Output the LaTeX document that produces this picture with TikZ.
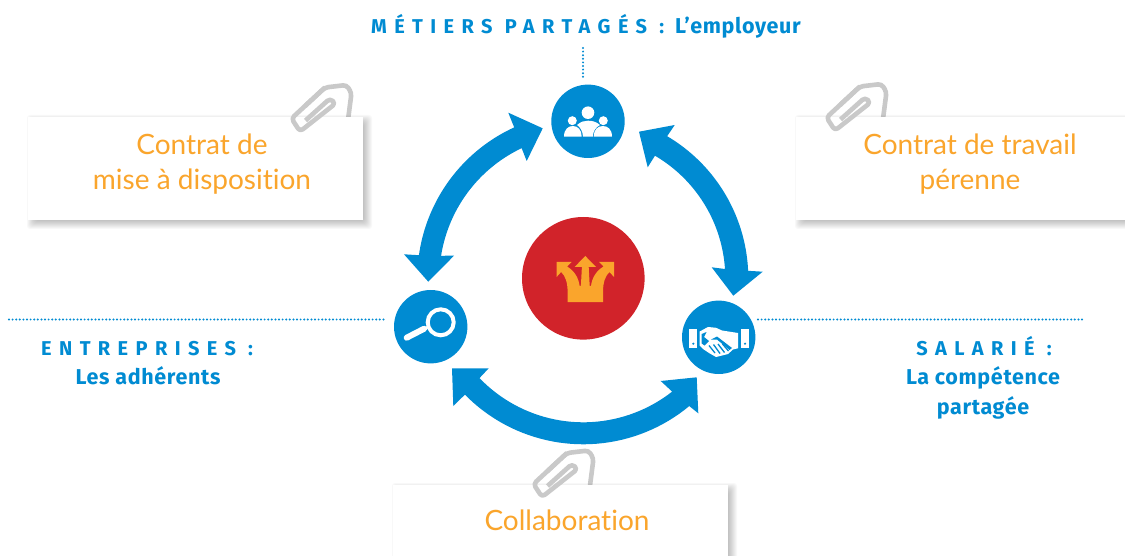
\documentclass[tikz,border=0pt]{standalone}
\usepackage{fontspec}
\setmainfont{Fira Sans}
\newfontfamily\lblfont{Fira Sans Bold}[LetterSpace=3]
\newfontfamily\spacedfont{Fira Sans Bold}[LetterSpace=37]
\newfontfamily\orfont{Lato}[Ligatures=NoCommon]
\definecolor{bluemain}{HTML}{008BD2}
\definecolor{redmain}{HTML}{D1232A}
\definecolor{orangemain}{HTML}{FAA52C}
\definecolor{cliptone}{HTML}{C9C9C9}
\tikzset{
  disc/.style={circle,fill=bluemain,minimum size=73.4pt,inner sep=0pt},
  reddisc/.style={circle,fill=redmain,minimum size=122.6pt,inner sep=0pt},
  paper/.style={rectangle,fill=white,inner sep=0pt},
  orangetext/.style={text=orangemain,font=\orfont\fontsize{28}{35}\selectfont,align=center,inner sep=0pt},
  bluetext/.style={text=bluemain,font=\lblfont\fontsize{21.5}{30}\selectfont,align=center,inner sep=0pt},
  spaced/.style={text=bluemain,font=\spacedfont\fontsize{20}{30}\selectfont,inner sep=0pt},
  dots/.style={draw=bluemain,line width=2.2pt,line cap=round,dash pattern=on 0pt off 3.6pt},
  fatarrow/.style={fill=bluemain},
  wire/.style={draw=cliptone,line width=4.6pt,rounded corners=3.5pt,line cap=butt,line join=round},
  icon/.style={fill=white},
}
% soft shadow of a rectangle
\newcommand{\softshadow}[4]{%
  \foreach \k in {0,1,...,11}{
    \fill[black,opacity=0.026,rounded corners=3pt]
      ({#1+10-\k},{#2+9-\k}) rectangle ({#3-2+\k},{#4-2+\k});
  }}
\newcommand{\clipback}[2]{%
  \begin{scope}[shift={(#1,#2)}]
    \draw[wire] (348,120) -- (351.5,93) -- (346.5,85) -- (325,87.5) -- (305,106);
  \end{scope}}
\newcommand{\clipfront}[2]{%
  \begin{scope}[shift={(#1,#2)}]
    \draw[wire] (325,87.5) -- (291.5,118.5) -- (300,131.5) -- (335.5,103.5) -- (330,98.5) -- (305.5,120.5);
  \end{scope}}
\begin{document}
\begin{tikzpicture}[x=1pt,y=-1pt]
\useasboundingbox (0,0) rectangle (1125,556);
\fill[white] (0,0) rectangle (1125,556);

% dotted leaders
\coordinate (topa) at (583,48);
\coordinate (topb) at (583,80);
\coordinate (lefta) at (9,319.5);
\coordinate (leftb) at (384,319.5);
\coordinate (righta) at (758,319.5);
\coordinate (rightb) at (1083,319.5);
\draw[dots] (topa) -- (topb);
\draw[dots] (lefta) -- (leftb);
\draw[dots] (righta) -- (rightb);

% shadows, clips, note boxes
\clipback{0}{0}
\clipback{535}{-1}
\clipback{242}{365.5}
\softshadow{28}{117}{363}{220}
\softshadow{796}{117}{1135}{220}
\softshadow{393}{485}{728}{570}
\node[paper,minimum width=335pt,minimum height=103pt] (boxL) at (195.5,168.5) {};
\node[paper,minimum width=339pt,minimum height=103pt] (boxR) at (965.5,168.5) {};
\node[paper,minimum width=335pt,minimum height=85pt] (boxB) at (560.5,527.5) {};
\clipfront{0}{0}
\clipfront{535}{-1}
\clipfront{242}{365.5}
\node[orangetext] (tL) at (202,164.5) {Contrat de\\mise à disposition};
\node[orangetext] (tR) at (970,164.5) {Contrat de travail\\pérenne};
\node[orangetext] (tB) at (567,520) {Collaboration};

% labels
\node[spaced,anchor=base west] (mp) at (371,34) {MÉTIERS PARTAGÉS :};
\node[bluetext,anchor=base east] (emp) at (801,34) {L’employeur};
\node[spaced,anchor=base west] (ent) at (41,355) {ENTREPRISES :};
\node[bluetext,anchor=base] (adh) at (148,384) {Les adhérents};
\node[spaced,anchor=base] (sal) at (984,355) {SALARIÉ :};
\node[bluetext,anchor=base] (comp) at (983,384) {La compétence};
\node[bluetext,anchor=base] (part) at (983,414) {partagée};

% circles
\node[reddisc] (core) at (583.3,278.3) {};
\node[disc] (people) at (588,121.3) {};
\node[disc] (search) at (430.7,326.7) {};
\node[disc] (shake) at (718.7,337.3) {};

% ring arrows
\fill[fatarrow] (542.7,128.3) -- (526.7,161) -- (521.7,148.3)
  -- plot[domain=244.8:189,samples=40] ({583.3+144*cos(\x)},{278.3+144*sin(\x)})
  -- (454,255.7) -- (428.3,281.7) -- (404,254.3)
  -- plot[domain=188:245.4,samples=40] ({583.3+166*cos(\x)},{278.3+166*sin(\x)})
  -- (508.3,112.7) -- cycle;
\fill[fatarrow] (639,131.7) -- (674.7,125) -- (667.3,136)
  -- plot[domain=-59.4:-2.6,samples=40] ({583.3+165*cos(\x)},{278.3+165*sin(\x)})
  -- (762.7,271.7) -- (733.3,295.7) -- (711.7,267.3)
  -- plot[domain=-3.75:-59.7,samples=40] ({583.3+142*cos(\x)},{278.3+142*sin(\x)})
  -- (647.7,167.3) -- cycle;
\fill[fatarrow] (452,368.3) -- (488.7,368.3) -- (479.3,378.3)
  -- plot[domain=136.1:51.9,samples=40] ({583.3+144*cos(\x)},{278.3+144*sin(\x)})
  -- (660.7,381) -- (696.7,377.3) -- (698.3,413.3) -- (690,406.7)
  -- plot[domain=50.3:135.5,samples=40] ({583.3+166*cos(\x)},{278.3+166*sin(\x)})
  -- (453.3,406) -- cycle;

% central icon
\fill[orangemain] (567.6,302) -- (603,302) -- (603,292)
  .. controls (603,283) and (605,276) .. (609.5,272)
  -- (614,277) -- (614,262) -- (599,262) -- (603.5,266.5)
  .. controls (596,271) and (592,278) .. (591,286)
  -- (589.7,286) -- (588.7,267) -- (596,267) -- (585.3,256) -- (574.6,267) -- (581.9,267)
  -- (580.9,286) -- (579.6,286)
  .. controls (578.6,278) and (574.6,271) .. (567.1,266.5)
  -- (571.6,262) -- (556.6,262) -- (556.6,277) -- (561.1,272)
  .. controls (565.6,276) and (567.6,283) .. (567.6,292) -- cycle;

% people icon
\fill[icon] (588,112.7) circle[radius=6.3];
\fill[icon] (572.3,120.7) circle[radius=4.5];
\fill[icon] (603.3,120.7) circle[radius=4.5];
\fill[icon] (564,136.7) .. controls (564,129.5) and (568,126) .. (572.8,126)
  .. controls (578,126) and (581.7,130) .. (581.7,136.7) -- cycle;
\fill[icon] (593.7,136.7) .. controls (593.7,130) and (597.5,126) .. (602.8,126)
  .. controls (608,126) and (612,129.5) .. (612,136.7) -- cycle;
\fill[icon] (577,125) .. controls (581,121.5) and (584.5,120.7) .. (588,120.7)
  .. controls (592,120.7) and (596,121.5) .. (600,125)
  .. controls (596,127) and (593,131) .. (592.8,136.7) -- (583,136.7)
  .. controls (582.8,131) and (580,127) .. (577,125) -- cycle;

% magnifier icon
\draw[white,line width=4pt] (440.7,322.3) circle[radius=13];
\draw[white,line width=6pt,line cap=round] (406.7,337.7) -- (424,328.8);
\draw[white,line width=2.5pt] (424,328.8) -- (429,326.5);

% handshake icon
\fill[icon] (688.7,329.3) rectangle (697.3,347.7);
\fill[icon] (740.7,329.3) rectangle (749.3,347.7);
\fill[bluemain] (693.3,343.7) circle[radius=1.2];
\fill[bluemain] (745,343.7) circle[radius=1.2];
\fill[icon] (699.7,331.5) -- (708,327) -- (716,327.8) -- (722,330.5) -- (738,333) -- (738,348.3)
  -- (733,349.5) -- (728,354) -- (722,355.5) -- (716,357) -- (709,353) -- (703,349)
  -- (699.7,345.7) -- cycle;
\fill[bluemain] (701.7,334) -- (706.5,332) -- (704,337) -- (709,341) -- (704.5,345.5) -- (701.7,343.5) -- cycle;
\fill[bluemain] (711,339.5) -- (717,336.5) -- (732,348) -- (729.5,350) -- (717,339.5) -- cycle;
\draw[bluemain,line width=1.3pt] (709,345.5) -- (715,353) (713.5,344.5) -- (720,353.5) (718,344) -- (724.5,352.5) (722.5,344) -- (728.5,351);
\end{tikzpicture}
\end{document}
